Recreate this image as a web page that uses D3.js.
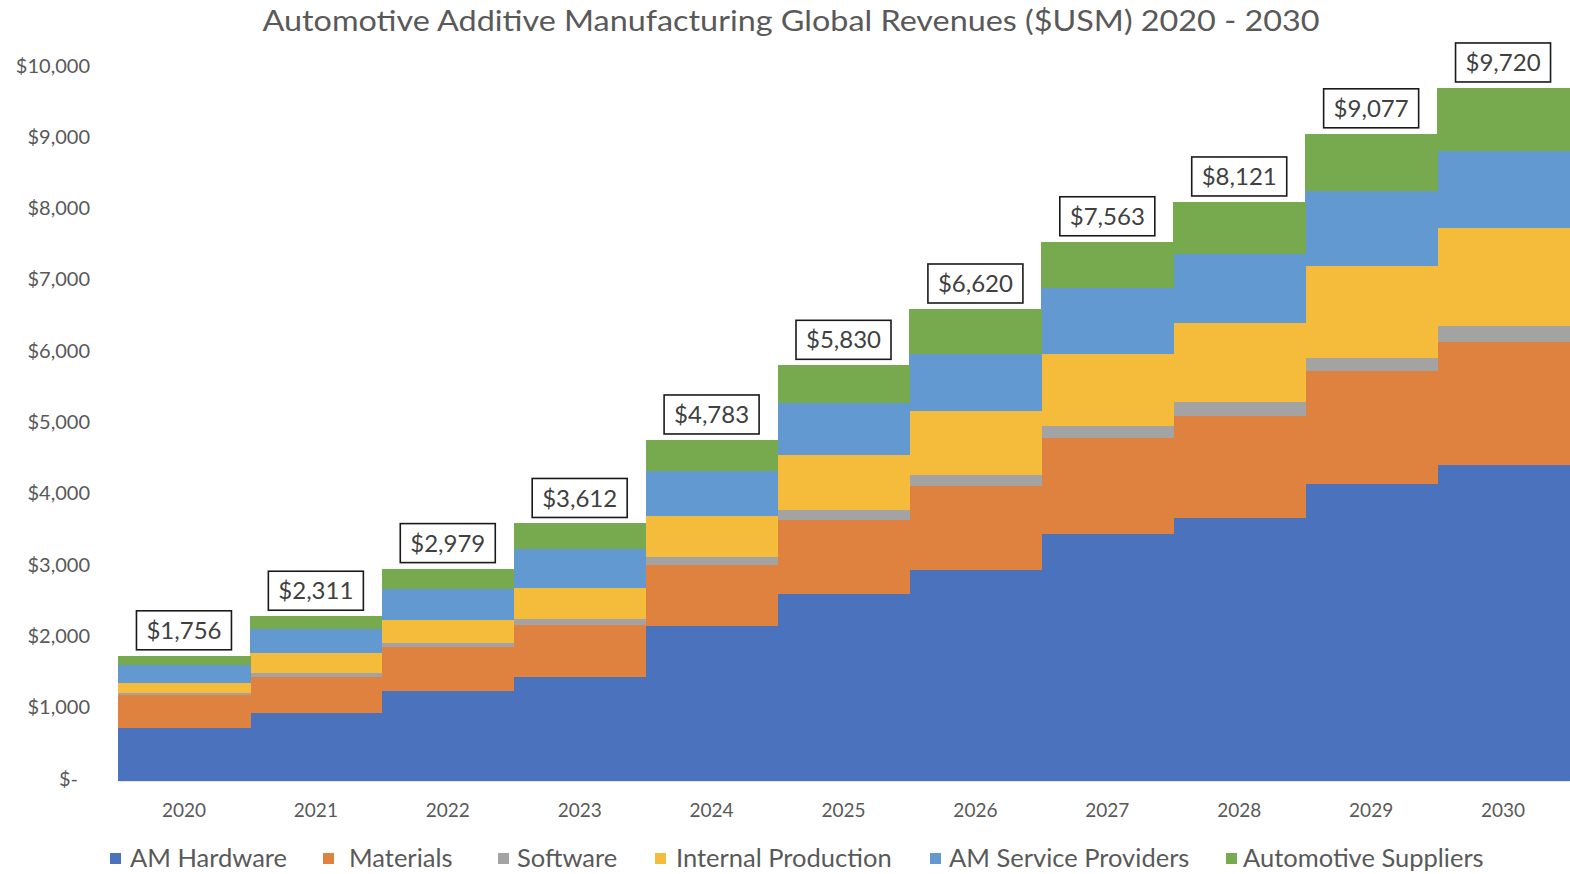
<!DOCTYPE html>
<html>
<head>
<meta charset="utf-8">
<script src="https://cdn.jsdelivr.net/npm/d3@7"></script>
<style>
  html, body { margin: 0; padding: 0; background: #ffffff; }
  svg { display: block; }
  text { font-family: Lato, "Open Sans", sans-serif; }
</style>
</head>
<body>
<svg id="chart" width="1570" height="874"></svg>
<script>
// ---- Data ----
const years = ["2020","2021","2022","2023","2024","2025","2026","2027","2028","2029","2030"];
const seriesNames = ["AM Hardware","Materials","Software","Internal Production","AM Service Providers","Automotive Suppliers"];
const amHardware        = [740, 958, 1262, 1454, 2178, 2623, 2954, 3470, 3690, 4170, 4428];
const materials         = [466, 505, 622, 734, 851, 1038, 1178, 1338, 1433, 1585, 1735];
const software          = [32, 50, 56, 84, 117, 140, 160, 165, 186, 182, 217];
const internalProd      = [132, 278, 318, 439, 571, 771, 902, 1011, 1116, 1293, 1373];
const serviceProviders  = [257, 337, 431, 539, 635, 730, 790, 928, 962, 1041, 1088];
const autoSuppliers     = [129, 183, 290, 362, 431, 528, 636, 651, 734, 806, 879];
const totals            = [1756, 2311, 2979, 3612, 4783, 5830, 6620, 7563, 8121, 9077, 9720];
const yTicks = [0, 1000, 2000, 3000, 4000, 5000, 6000, 7000, 8000, 9000, 10000];
const colors = ["#4a72bd", "#df813f", "#a3a3a3", "#f5bc3c", "#6399d1", "#77a94f"];

const seriesValues = [amHardware, materials, software, internalProd, serviceProviders, autoSuppliers];
const table = years.map((yr, i) => {
  const row = { year: yr };
  seriesNames.forEach((n, k) => { row[n] = seriesValues[k][i]; });
  return row;
});

// ---- Layout ----
const svg = d3.select("#chart");
const plotLeft = 118, plotRight = 1569, plotTop = 68, plotBottom = 781;

const x = d3.scaleBand().domain(years).range([plotLeft, plotRight]).paddingInner(0).paddingOuter(0);
const y = d3.scaleLinear().domain([0, 10000]).range([plotBottom, plotTop]);

const stacked = d3.stack().keys(seriesNames)(table);

// ---- Bars (step areas) ----
const g = svg.append("g").attr("shape-rendering", "crispEdges");
stacked.forEach((layer, k) => {
  g.append("g")
    .attr("fill", colors[k])
    .selectAll("rect")
    .data(layer)
    .join("rect")
    .attr("x", d => x(d.data.year))
    .attr("width", x.bandwidth() + 0.6)
    .attr("y", d => y(d[1]))
    .attr("height", d => y(d[0]) - y(d[1]));
});

// ---- Title ----
svg.append("text")
  .attr("x", 791)
  .attr("y", 31)
  .attr("text-anchor", "middle")
  .attr("font-size", 29)
  .attr("fill", "#595959")
  .attr("textLength", 1057)
  .attr("lengthAdjust", "spacingAndGlyphs")
  .text("Automotive Additive Manufacturing Global Revenues ($USM) 2020 - 2030");

// ---- Y axis ----
const yAxis = d3.axisLeft(y)
  .tickValues(yTicks)
  .tickSize(0)
  .tickPadding(0)
  .tickFormat(v => v === 0 ? "$-" : "$" + d3.format(",")(v));
const ya = svg.append("g").attr("transform", "translate(90,0)").call(yAxis);
ya.select(".domain").remove();
ya.selectAll("text")
  .attr("font-size", 20)
  .attr("fill", "#595959")
  .attr("font-family", "Lato, 'Open Sans', sans-serif")
  .attr("dx", d => d === 0 ? -12 : 0)
  .attr("dy", "0.2em");

// ---- X axis ----
const xAxis = d3.axisBottom(x).tickSize(0).tickPadding(0);
const xa = svg.append("g").attr("transform", `translate(0,${plotBottom})`).call(xAxis);
xa.select(".domain").attr("stroke", "#e4e4e4").attr("stroke-width", 1);
xa.selectAll("text")
  .attr("font-size", 19)
  .attr("fill", "#595959")
  .attr("font-family", "Lato, 'Open Sans', sans-serif")
  .attr("y", 29)
  .attr("dy", "0.35em");

// ---- Data labels ----
const boxW = 95, boxH = 39, gap = 6;
const labels = svg.append("g");
years.forEach((yr, i) => {
  const cx = x(yr) + x.bandwidth() / 2;
  const yb = y(totals[i]) - gap;
  labels.append("rect")
    .attr("x", cx - boxW / 2)
    .attr("y", yb - boxH)
    .attr("width", boxW)
    .attr("height", boxH)
    .attr("fill", "#ffffff")
    .attr("stroke", "#1a1a1a")
    .attr("stroke-width", 1.6);
  labels.append("text")
    .attr("x", cx)
    .attr("y", yb - boxH / 2)
    .attr("dy", "0.36em")
    .attr("text-anchor", "middle")
    .attr("font-size", 24)
    .attr("fill", "#404040")
    .text("$" + d3.format(",")(totals[i]));
});

// ---- Legend ----
const legendX = [110, 323, 498, 655, 930, 1226];
const legendTextX = [130, 349, 517, 676, 949, 1243];
const legend = svg.append("g");
seriesNames.forEach((n, k) => {
  legend.append("rect")
    .attr("x", legendX[k])
    .attr("y", 853)
    .attr("width", 11)
    .attr("height", 11)
    .attr("fill", colors[k]);
  legend.append("text")
    .attr("x", legendTextX[k])
    .attr("y", 858)
    .attr("dy", "0.36em")
    .attr("font-size", 25.5)
    .attr("fill", "#595959")
    .text(n);
});
</script>
</body>
</html>
